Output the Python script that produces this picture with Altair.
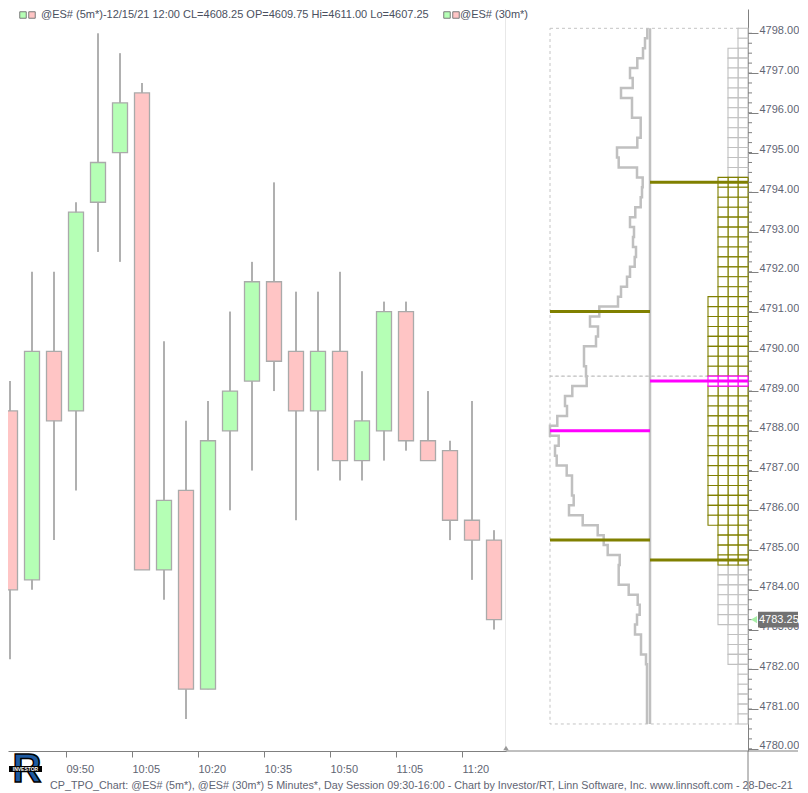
import altair as alt
import numpy as np
import pandas as pd

# ---------------- data ----------------
bar_index = list(range(23))
opens  = [4788.5, 4784.25, 4790.0, 4788.5, 4793.75, 4795.0, 4796.5, 4784.5, 4786.5, 4781.5, 4788.0, 4789.25,
          4791.75, 4790.0, 4788.5, 4790.0, 4787.25, 4788.0, 4791.0, 4787.75, 4787.5, 4785.75, 4785.25]
highs  = [4789.25, 4792.0, 4792.0, 4793.75, 4798.0, 4797.5, 4796.75, 4790.25, 4788.25, 4788.75, 4791.0, 4792.25,
          4794.25, 4791.5, 4791.5, 4792.0, 4789.5, 4791.25, 4791.25, 4789.0, 4787.75, 4788.75, 4785.5]
lows   = [4782.25, 4784.0, 4785.25, 4786.5, 4792.5, 4792.25, 4784.5, 4783.75, 4780.75, 4781.5, 4786.0, 4787.0,
          4789.0, 4785.75, 4787.0, 4786.75, 4786.75, 4787.25, 4787.5, 4787.25, 4785.25, 4784.25, 4783.0]
closes = [4784.0, 4790.0, 4788.25, 4793.5, 4794.75, 4796.25, 4784.5, 4786.25, 4781.5, 4787.75, 4789.0, 4791.75,
          4789.75, 4788.5, 4790.0, 4787.25, 4788.25, 4791.0, 4787.75, 4787.25, 4785.75, 4785.25, 4783.25]

time_labels = ["09:50", "10:05", "10:20", "10:35", "10:50", "11:05", "11:20"]

# price levels of the profile (tick size 0.25), top to bottom
tick = 0.25
level_prices = [4798.0 - tick * k for k in range(70)]

# volume profile (left profile) widths per level
profile_width = [2.7, 5, 7, 12.7, 20, 17.3, 29, 18, 18, 9.3, 9.3, 12.7, 33, 31.3, 13, 7.3, 8, 9.3, 14.7, 20,
                 16, 17, 14, 15.3, 20, 23, 29, 32, 50.7, 60, 52, 54, 66, 66, 64, 63.3, 77.7, 85, 83, 92.7,
                 100, 91.3, 95, 93.3, 83.3, 78, 78, 76.3, 81, 67.3, 52.3, 46.3, 42.3, 30.3, 31.3, 31.3, 21.3,
                 12.3, 10.3, 13, 15, 9, 9, 4, 3, 3, 3, 3, 3, 3]

# TPO letter counts per level
tpo_counts = [1, 1, 2, 2, 2, 2, 2, 2, 2, 2, 2, 2, 2, 2, 2, 3, 3, 3, 3, 3, 3, 3, 3, 3, 3, 3, 3,
              4, 4, 4, 4, 4, 4, 4, 4, 4, 4, 4, 4, 4, 4, 4, 4, 4, 4, 4, 4, 4, 4, 4,
              3, 3, 3, 3, 3, 3, 3, 3, 3, 3, 2, 2, 2, 2, 1, 1, 1, 1, 1, 1]

profile_vah, profile_poc, profile_val = 4791.0, 4788.0, 4785.25
tpo_vah, tpo_poc, tpo_val = 4794.25, 4789.25, 4784.75

period_top = [4798.0, 4789.25]
period_bottom = [4789.5, 4780.75]

last_price = 4783.25

header_text = "@ES# (5m*)-12/15/21 12:00 CL=4608.25 OP=4609.75 Hi=4611.00 Lo=4607.25"
header_text2 = "@ES# (30m*)"
footer_text = ("CP_TPO_Chart: @ES# (5m*), @ES# (30m*) 5 Minutes*, Day Session 09:30-16:00 - "
               "Chart by Investor/RT, Linn Software, Inc. www.linnsoft.com - 28-Dec-21")

# ---------------- tables ----------------
half = tick / 2
candles = pd.DataFrame({"i": bar_index, "open": opens, "high": highs, "low": lows, "close": closes})
candles["dir"] = np.where(candles["close"] >= candles["open"], "up", "down")

pts = []
for k, (p, w) in enumerate(zip(level_prices, profile_width)):
    pts.append({"seq": 2 * k, "w": w, "p": p + half})
    pts.append({"seq": 2 * k + 1, "w": w, "p": p - half})
profile_pts = pd.DataFrame(pts)

kind_order = {"out": 0, "va": 1, "poc": 2}
cells = []
for p, n in zip(level_prices, tpo_counts):
    if p == tpo_poc:
        kind = "poc"
    elif tpo_val <= p <= tpo_vah:
        kind = "va"
    else:
        kind = "out"
    for c in range(n):
        cells.append({"c0": c, "c1": c + 1, "top": p + half, "bot": p - half, "kind": kind, "o": kind_order[kind]})
cells_df = pd.DataFrame(cells).sort_values("o", kind="stable")

periods = pd.DataFrame({"top": [p + half for p in period_top], "bot": [p - half for p in period_bottom]})
baseline_df = pd.DataFrame({"w": [0], "top": [max(level_prices) + half], "bot": [min(level_prices) - half]})
left_levels = pd.DataFrame({"price": [profile_vah, profile_poc, profile_val], "w0": [100] * 3, "w1": [0] * 3,
                            "kind": ["va", "poc", "va"]})
right_levels = pd.DataFrame({"price": [tpo_vah, tpo_poc, tpo_val], "kind": ["va", "poc", "va"]})
minor_df = pd.DataFrame({"p": np.arange(4780.0, 4798.01, tick)})
last_df = pd.DataFrame({"p": [last_price], "hi": [last_price + 0.2], "lo": [last_price - 0.2]})
one = pd.DataFrame({"a": [0]})

# ---------------- scales / axes ----------------
PLOT_H = 742
LEFT_W = 498
RIGHT_W = 242
Y_DOMAIN = [4779.945, 4798.611]
FONT = "Liberation Sans"
AX_COL = "#5f6573"
LINE_COL = "#808080"

y_scale = alt.Scale(domain=Y_DOMAIN, nice=False, zero=False, padding=0)
y_axis = alt.Axis(orient="right", values=list(range(4780, 4799)), format=".2f", tickSize=10,
                  tickColor=LINE_COL, domainColor=LINE_COL, labelColor=AX_COL, labelFont=FONT,
                  labelFontSize=11, labelPadding=1, labelOffset=-3, title=None, grid=False,
                  labelBaseline="middle", labelFlush=False, labelOverlap=False)

x_scale = alt.Scale(domain=[-0.0909, 22.5455], nice=False, zero=False, padding=0)
tick_vals = [2.5455 + 3 * k for k in range(len(time_labels))]
label_arr = "[" + ",".join("'%s'" % t for t in time_labels) + "]"
x_axis = alt.Axis(values=tick_vals, labelExpr=label_arr + "[round((datum.value-2.5455)/3)]",
                  tickSize=6, tickColor=LINE_COL, domainColor=LINE_COL, labelColor=AX_COL,
                  labelFont=FONT, labelFontSize=11, labelAlign="left", labelPadding=6,
                  title=None, grid=False, labelFlush=False, labelOverlap=False)

prof_scale = alt.Scale(domain=[0, 144], range=[144, 0], nice=False, zero=False)
tpo_scale = alt.Scale(domain=[0, 24.2], range=[242, 0], nice=False, zero=False)
kind_scale = alt.Scale(domain=["out", "va", "poc"], range=["#c0c0c0", "#808000", "#ff00ff"])

# ---------------- left panel ----------------
sep = alt.Chart(one).mark_rule(color="#e8e8e8", strokeWidth=1).encode(
    x=alt.value(497.5), y=alt.value(0), y2=alt.value(PLOT_H))

wicks = alt.Chart(candles).mark_rule(color="#b0b0b0", strokeWidth=2, clip=True).encode(
    x=alt.X("i:Q", scale=x_scale, axis=x_axis),
    y=alt.Y("low:Q", scale=y_scale, axis=None),
    y2="high:Q")

bodies = alt.Chart(candles).mark_bar(size=15, stroke="#aaaaaa", strokeWidth=1.3, clip=True).encode(
    x=alt.X("i:Q", scale=x_scale, axis=x_axis),
    y=alt.Y("open:Q", scale=y_scale, axis=None),
    y2="close:Q",
    fill=alt.Fill("dir:N", scale=alt.Scale(domain=["up", "down"], range=["#b5ffb5", "#ffc5c5"]), legend=None))

tri = alt.Chart(one).mark_point(shape="triangle-up", filled=True, color="#999999", size=30, opacity=1).encode(
    x=alt.value(498), y=alt.value(PLOT_H - 3))

def txt(s, x, y, size=11, color=AX_COL, align="left", baseline="middle", weight="normal", font=FONT, **kw):
    return alt.Chart(one).mark_text(text=s, align=align, baseline=baseline, fontSize=size, color=color,
                                    fontWeight=weight, font=font, **kw).encode(x=alt.value(x), y=alt.value(y))

def sq(x, y, fill):
    return alt.Chart(one).mark_square(size=42, fill=fill, stroke="#7a7a7a", strokeWidth=1, opacity=1,
                                      fillOpacity=1).encode(x=alt.value(x), y=alt.value(y))

header = [
    sq(15, 6, "#b5ffb5"), sq(24, 6, "#ffc5c5"),
    txt(header_text, 33, 6, color="#4a5060"),
    sq(439, 6, "#b5ffb5"), sq(448, 6, "#ffc5c5"),
    txt(header_text2, 452, 6, color="#4a5060"),
]

footer = txt(footer_text, 42, 777, size=10.75, color=AX_COL)

logo_main = txt("R", 19, 761, size=40, color="#1e5aa0", align="center", weight="bold",
                stroke="#000000", strokeWidth=1.5)
logo_band = alt.Chart(one).mark_rect(color="#000000").encode(
    x=alt.value(1), x2=alt.value(34), y=alt.value(757), y2=alt.value(763))
logo_word = txt("INVESTOR", 17.5, 760, size=5, color="#ffffff", align="center", weight="bold")

left = alt.layer(sep, wicks, bodies, tri, *header, footer, logo_main, logo_band, logo_word
                 ).properties(width=LEFT_W, height=PLOT_H)

# ---------------- right panel ----------------
dashed = alt.Chart(periods).mark_rect(fill="#ffffff", fillOpacity=0, stroke="#c4c4c4", strokeDash=[3, 3],
                                      strokeWidth=1).encode(
    x=alt.value(44), x2=alt.value(234),
    y=alt.Y("top:Q", scale=y_scale, axis=y_axis), y2="bot:Q")

baseline = alt.Chart(baseline_df).mark_rule(color="#c0c0c0", strokeWidth=2.5).encode(
    x=alt.X("w:Q", scale=prof_scale, axis=None),
    y=alt.Y("top:Q", scale=y_scale, axis=y_axis), y2="bot:Q")

prof_line = alt.Chart(profile_pts).mark_line(color="#c0c0c0", strokeWidth=2.5).encode(
    x=alt.X("w:Q", scale=prof_scale, axis=None),
    y=alt.Y("p:Q", scale=y_scale, axis=y_axis),
    order="seq:Q")

lvl_left = alt.Chart(left_levels).mark_rule(strokeWidth=3).encode(
    x=alt.X("w0:Q", scale=prof_scale, axis=None), x2="w1:Q",
    y=alt.Y("price:Q", scale=y_scale, axis=y_axis),
    stroke=alt.Stroke("kind:N", scale=kind_scale, legend=None))

tpo_cells = alt.Chart(cells_df).mark_rect(fill="#ffffff", strokeWidth=1.1).encode(
    x=alt.X("c0:Q", scale=tpo_scale, axis=None), x2="c1:Q",
    y=alt.Y("top:Q", scale=y_scale, axis=y_axis), y2="bot:Q",
    stroke=alt.Stroke("kind:N", scale=kind_scale, legend=None),
    order="o:Q")

lvl_right = alt.Chart(right_levels).mark_rule(strokeWidth=3).encode(
    x=alt.value(144), x2=alt.value(RIGHT_W),
    y=alt.Y("price:Q", scale=y_scale, axis=y_axis),
    stroke=alt.Stroke("kind:N", scale=kind_scale, legend=None))

minor = alt.Chart(minor_df).mark_rule(color=LINE_COL, strokeWidth=1).encode(
    x=alt.value(RIGHT_W), x2=alt.value(RIGHT_W + 4),
    y=alt.Y("p:Q", scale=y_scale, axis=y_axis))

bottom_line = alt.Chart(one).mark_rule(color=LINE_COL, strokeWidth=1).encode(
    x=alt.value(0), x2=alt.value(292), y=alt.value(PLOT_H), y2=alt.value(PLOT_H))
axis_ext = alt.Chart(one).mark_rule(color=LINE_COL, strokeWidth=1).encode(
    x=alt.value(RIGHT_W), y=alt.value(PLOT_H), y2=alt.value(PLOT_H + 40))

last_box = alt.Chart(last_df).mark_rect(color="#727272").encode(
    x=alt.value(252), x2=alt.value(292),
    y=alt.Y("hi:Q", scale=y_scale, axis=y_axis), y2="lo:Q")
last_tri = alt.Chart(last_df).mark_point(shape="triangle-left", filled=True, color="#a8f0a8", size=50,
                                         opacity=1).encode(
    x=alt.value(248), y=alt.Y("p:Q", scale=y_scale, axis=y_axis))
last_txt = alt.Chart(last_df).mark_text(text="4783.25", align="left", baseline="middle", fontSize=11,
                                        color="#ffffff", font=FONT).encode(
    x=alt.value(253), y=alt.Y("p:Q", scale=y_scale, axis=y_axis))

right = alt.layer(dashed, baseline, prof_line, lvl_left, tpo_cells, lvl_right, minor, bottom_line, axis_ext,
                  last_box, last_tri, last_txt
                  ).resolve_scale(x="independent").properties(width=RIGHT_W, height=PLOT_H)

chart = alt.hconcat(left, right, spacing=0, bounds="flush").properties(
    padding=0, background="#ffffff"
).resolve_scale(color="independent", fill="independent", stroke="independent").configure_view(stroke=None)

chart.save("out.html", embed_options={"renderer": "svg", "actions": False})
